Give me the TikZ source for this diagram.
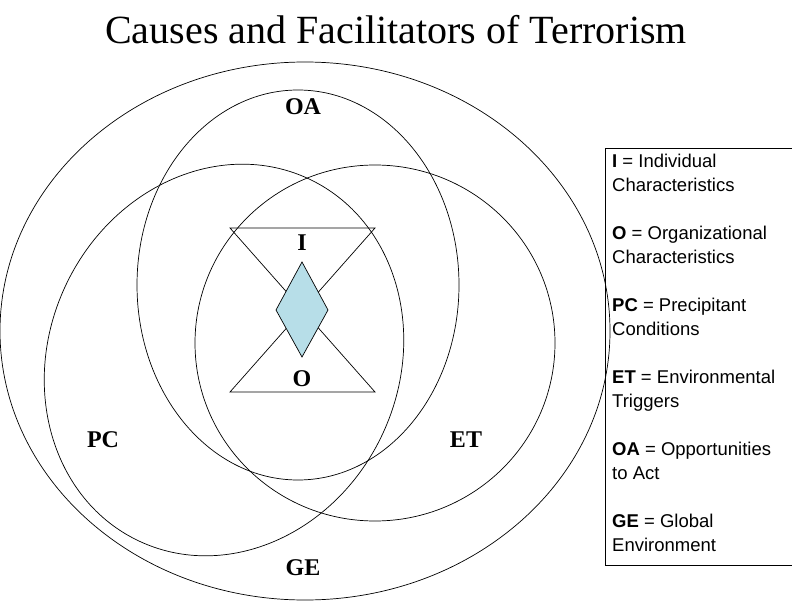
\documentclass[tikz,border=0pt]{standalone}
\usepackage{fontspec}
\setmainfont{Liberation Serif}
\newfontfamily\legfont{Liberation Sans}
\begin{document}
\begin{tikzpicture}[x=1pt,y=-1pt,
  ring/.style={draw=black,line width=0.7pt},
  lab/.style={font=\bfseries\fontsize{24}{24}\selectfont},
  leg/.style={font=\legfont\fontsize{18.5}{24}\selectfont,align=left,anchor=north west,inner sep=0pt}]
\useasboundingbox (0,0) rectangle (792,612);
\node[font=\fontsize{40}{40}\selectfont] (title) at (396,30) {Causes and Facilitators of Terrorism};
\draw[ring] (305,331) ellipse [x radius=305,y radius=269];
\draw[ring] (298,285) ellipse [x radius=161,y radius=195];
\draw[ring,rotate around={-25:(224,360)}] (224,360) ellipse [x radius=175,y radius=200];
\draw[ring] (375,343) ellipse [x radius=180,y radius=178];
\coordinate (tl) at (230,228); \coordinate (tr) at (375,228);
\coordinate (bl) at (230,392); \coordinate (br) at (375,392);
\draw[ring] (tl) -- (tr) -- (bl) -- (br) -- cycle;
\draw[ring,fill={rgb,255:red,183;green,222;blue,232}] (302,262) -- (328,310) -- (302,357) -- (276,310) -- cycle;
\node[lab] (oa) at (303,107) {OA};
\node[lab] (i) at (302,243) {I};
\node[lab] (o) at (302,379) {O};
\node[lab] (pc) at (103,440) {PC};
\node[lab] (et) at (466,440) {ET};
\node[lab] (ge) at (303,568) {GE};
\draw[ring] (605,148) rectangle (792,565);
\node[leg] (legend) at (612,154) {\textbf{I} = Individual\\Characteristics\\[24pt]\textbf{O} = Organizational\\Characteristics\\[24pt]\textbf{PC} = Precipitant\\Conditions\\[24pt]\textbf{ET} = Environmental\\Triggers\\[24pt]\textbf{OA} = Opportunities\\to Act\\[24pt]\textbf{GE} = Global\\Environment};
\end{tikzpicture}
\end{document}
